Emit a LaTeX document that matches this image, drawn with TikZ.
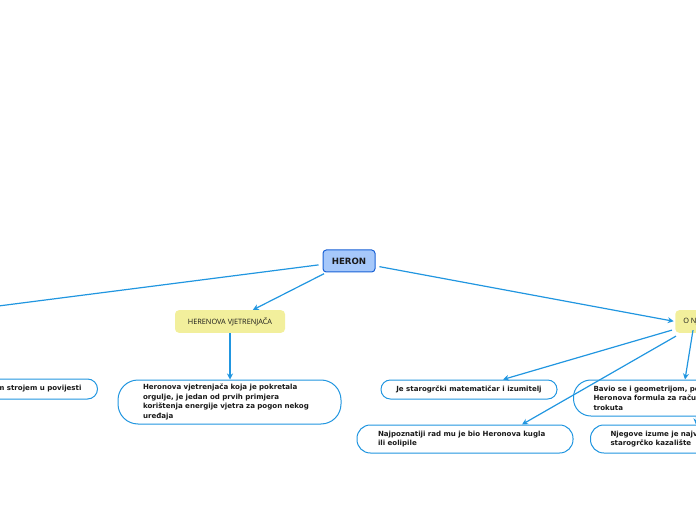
\documentclass[tikz,border=0pt]{standalone}
\usepackage{fontspec}
\setmainfont{DejaVu Sans}
\newfontfamily\yfont{Open Sans}
\usetikzlibrary{arrows.meta,calc,backgrounds}
\definecolor{conn}{HTML}{2196E0}
\definecolor{heronfill}{HTML}{A6C8FA}
\definecolor{heronline}{HTML}{1A62D6}
\definecolor{yel}{HTML}{F2EF9C}
\definecolor{txt}{HTML}{1A1A1A}
\begin{document}
\begin{tikzpicture}[x=0.75pt,y=-0.75pt,
  link/.style={draw=conn, line width=0.9pt, -{Stealth[length=4.5pt,width=4.5pt]}},
  root/.style={draw=heronline, fill=heronfill, rounded corners=2.5pt, line width=0.75pt,
    minimum width=39pt, minimum height=16.5pt, inner sep=0pt, text=txt,
    font=\fontsize{6.5}{8}\selectfont\bfseries},
  topic/.style={fill=yel, rounded corners=3pt, minimum height=17pt, inner sep=0pt, text=txt,
    font=\yfont\fontsize{5.5}{7}\selectfont},
  leaf/.style={draw=conn, line width=0.75pt, fill=white, text=txt, align=left, inner ysep=0pt,
    font=\fontsize{5.3}{7.1}\selectfont\bfseries}
]
\useasboundingbox (0,0) rectangle (696,520);
\clip (0,0) rectangle (696,520);

\node[root] (heron) at (349,261) {HERON};
\node[topic, minimum width=82.5pt] (vjet) at (230,321.5) {HERENOVA VJETRENJAČA};
\node[topic, anchor=west, inner xsep=6pt] (onj) at (675,321.5) {O NJEMU};

\node[leaf, anchor=east, rounded corners=7.5pt, minimum height=15pt, inner xsep=12pt] (left) at (98,389)
  {Smatra se prvim parnim strojem u povijesti};
\node[leaf, rounded corners=15pt, minimum height=33pt, inner xsep=18.75pt, text width=129.75pt] (vjtxt) at (229.5,402)
  {Heronova vjetrenjača koja je pokretala\\orgulje, je jedan od prvih primjera\\korištenja energije vjetra za pogon nekog\\uređaja};
\node[leaf, rounded corners=7pt, minimum height=14.25pt, minimum width=132pt] (je) at (469,389.5)
  {Je starogrčki matematičar i izumitelj};
\node[leaf, rounded corners=10pt, minimum height=21pt, inner xsep=15.75pt, text width=130.5pt] (najp) at (465,439)
  {Najpoznatiji rad mu je bio Heronova kugla\\ili eolipile};
\node[leaf, anchor=west, rounded corners=13pt, minimum height=27pt, inner xsep=15pt, text width=150pt] (bavio) at (573,398)
  {Bavio se i geometrijom, po njemu je nazvana\\Heronova formula za računanje površine\\trokuta};
\node[leaf, anchor=west, rounded corners=10pt, minimum height=21pt, inner xsep=15pt, text width=130pt] (njeg) at (590,439)
  {Njegove izume je najviše koristilo\\starogrčko kazalište};

\coordinate (lt) at (-60,313.5);
\draw[link, shorten <=3pt] (heron) -- (lt);
\draw[link, shorten <=2pt] (heron) -- (vjet);
\draw[link, shorten <=3pt, shorten >=1pt] (heron) -- (onj.west);
\draw[link] (vjet) -- (vjet |- vjtxt.north);
\draw[link] ($(onj.south west)+(-3,-3)$) -- ($(je.north)+(34,0)$);
\draw[link] ($(onj.south west)+(1,3)$) -- ($(najp.north)+(57,0)$);
\draw[link] ($(onj.south west)+(18,-3)$) -- ($(bavio.north west)+(112,0)$);
\begin{pgfonlayer}{background}
\draw[link] ($(onj.south west)+(28,0)$) -- ($(njeg.north west)+(106,0)$);
\end{pgfonlayer}
\end{tikzpicture}
\end{document}
